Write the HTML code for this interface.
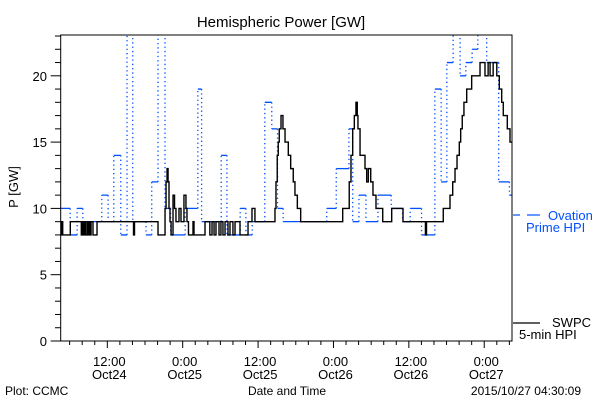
<!DOCTYPE html>
<html><head><meta charset="utf-8">
<style>
html,body{margin:0;padding:0;background:#fff;}
svg{display:block;font-family:"Liberation Sans",sans-serif;}
</style></head>
<body>
<svg id="chart" width="600" height="400" viewBox="0 0 600 400" xmlns="http://www.w3.org/2000/svg">
<rect width="600" height="400" fill="#fff"/>
<defs><clipPath id="plotclip"><rect x="60.7" y="35" width="451.3" height="306.5"/></clipPath></defs>
<text x="281" y="27" font-size="15" text-anchor="middle" fill="#000">Hemispheric Power [GW]</text>
<text x="0" y="0" font-size="13" text-anchor="middle" transform="translate(18,187) rotate(-90)" fill="#000">P [GW]</text>
<text x="287" y="395" font-size="12" text-anchor="middle" fill="#000">Date and Time</text>
<text x="5" y="395" font-size="12" fill="#000">Plot: CCMC</text>
<text x="581" y="395" font-size="12" text-anchor="end" fill="#000">2015/10/27 04:30:09</text>
<g id="yaxis"></g>
<g id="xaxis"></g>
<g clip-path="url(#plotclip)">
<g id="ovation"></g>
<path id="swpc" fill="none" stroke="#000" stroke-width="1.4"/>
</g>
<rect x="60.7" y="35" width="451.3" height="306" fill="none" stroke="#000" stroke-width="1"/>
<g>
<line x1="513" y1="215" x2="520" y2="215" stroke="#0050ff" stroke-width="1.2"/>
<line x1="527" y1="215" x2="540" y2="215" stroke="#0050ff" stroke-width="1.2"/>
<text x="548" y="220" font-size="13" fill="#0050ff">Ovation</text>
<text x="526" y="232" font-size="13" fill="#0050ff">Prime HPI</text>
</g>
<g>
<line x1="513" y1="323" x2="540" y2="323" stroke="#000" stroke-width="1.2"/>
<text x="552" y="327" font-size="13" fill="#000">SWPC</text>
<text x="519" y="339" font-size="13" fill="#000">5-min HPI</text>
</g>
</svg>
<script>
// time in hours since Oct24 00:00
const tMin = 4.58, tMax = 76.42;
const yTicks = [0, 5, 10, 15, 20];
const xTickHours = [12, 24, 36, 48, 60, 72];
const xTickTimes = ["12:00", "0:00", "12:00", "0:00", "12:00", "0:00"];
const xTickDates = ["Oct24", "Oct25", "Oct25", "Oct26", "Oct26", "Oct27"];
const ovTimes = [4.58,6.09,7.2,8.1,11.12,12.13,13.03,14.14,15.14,16.05,18.16,19.07,20.07,21.18,22.08,24.4,26.41,27.01,30.13,31.04,33.15,34.06,35.06,37.07,38.18,39.09,39.99,46.93,48.44,50.46,51.06,52.06,53.17,55.08,57.19,59.0,60.21,62.02,64.14,65.14,66.05,67.05,68.16,69.07,70.07,70.98,72.39,74.3,76.01];
const ovValues = [10,8,10,9,11,9,14,8,23.5,9,8,12,23.5,10,8,10,19,9,14,8,10,8,9,18,16,10,9,10,13,16,9,11,9,11,10,9,10,8,19,12,21,23.5,20,21,22,23.5,21,12,11];
const swTimes = [4.58,4.7,4.8,4.9,6.11,7.86,8.05,8.21,8.37,8.52,8.77,8.93,9.09,9.25,9.41,9.72,10.36,16.17,16.33,20.07,21.19,21.35,21.51,21.67,21.82,21.98,22.15,22.46,22.7,22.93,23.41,23.73,24.2,24.52,24.68,24.92,25.64,25.8,27.55,28.32,28.67,28.99,29.3,29.78,30.09,30.41,30.74,31.21,31.53,32.0,32.33,33.12,34.4,35.03,35.5,38.69,38.85,39.05,39.21,39.37,39.65,39.96,40.29,40.81,41.19,41.6,41.87,42.25,42.78,49.47,50.51,50.79,51.06,51.32,51.58,51.79,51.9,52.23,53.02,53.29,53.55,53.93,54.29,54.77,55.84,57.27,59.07,62.64,62.81,65.48,66.55,66.98,67.35,67.67,68.03,68.25,68.5,68.77,69.21,70.0,71.33,72.12,72.62,72.93,73.42,74.0,74.4,74.78,75.03,75.67,76.1];
const swValues = [9,8,9,8,9,8,9,8,9,8,9,8,9,8,9,8,9,8,9,8,10,12,13,12,10,9,8,11,10,9,10,9,11,10,9,8,9,8,9,8,9,8,9,8,9,8,9,8,9,8,9,8,9,10,9,10,12,14,15,16,17,16,15,14,13,12,11,10,9,10,12,14,16,17,18,17,16,14,13,12,13,12,11,10,9,10,9,8,9,10,11,12,13,14,15,16,17,18,19,20,21,20,21,20,21,20,19,18,17,16,15];

const X0 = 60.7, X1 = 512, Y0 = 341, pxPerUnit = 13.26;
const xs = t => X0 + (t - tMin) * (X1 - X0) / (tMax - tMin);
const ys = v => Y0 - v * pxPerUnit;
const NS = "http://www.w3.org/2000/svg";
function mk(tag, attrs, parent) {
  const e = document.createElementNS(NS, tag);
  for (const k in attrs) e.setAttribute(k, attrs[k]);
  parent.appendChild(e);
  return e;
}
// y axis
const ya = document.getElementById("yaxis");
for (let v = 0; v <= 23; v++) {
  const major = v % 5 === 0;
  const tk = mk("line", {x1: major ? 50.7 : 55, x2: X0, y1: ys(v), y2: ys(v), stroke: "#000", "stroke-width": 1}, ya);
  
  
}
yTicks.forEach(v => {
  const t = mk("text", {x: 47, y: ys(v) + 5, "font-size": 13, "text-anchor": "end", fill: "#000"}, ya);
  
  
  t.textContent = v;
});
// x axis
const xa = document.getElementById("xaxis");
for (let t = 6; t <= tMax; t += 2) {
  const major = t % 12 === 0;
  const tk = mk("line", {x1: xs(t), x2: xs(t), y1: Y0, y2: major ? 348 : 345, stroke: "#000", "stroke-width": 1}, xa);
  
  
}
xTickHours.forEach((t, i) => {
  const a = mk("text", {x: xs(t) + 2, y: 366, "font-size": 13, "text-anchor": "middle", fill: "#000"}, xa);
  
  
  a.textContent = xTickTimes[i];
  const b = mk("text", {x: xs(t) + 2, y: 379, "font-size": 13, "text-anchor": "middle", fill: "#000"}, xa);
  
  
  b.textContent = xTickDates[i];
});
// ovation: solid horizontals, dotted verticals
const og = document.getElementById("ovation");
ovTimes.forEach((t, i) => {
  const tEnd = i + 1 < ovTimes.length ? ovTimes[i + 1] : tMax;
  const h = mk("line", {x1: xs(t), x2: xs(tEnd), y1: ys(ovValues[i]), y2: ys(ovValues[i]), stroke: "#0050ff", "stroke-width": 1.3}, og);
  
  
  if (i + 1 < ovTimes.length) {
    const v = mk("line", {x1: xs(tEnd), x2: xs(tEnd), y1: ys(ovValues[i]), y2: ys(ovValues[i + 1]), stroke: "#0050ff", "stroke-width": 1.3, "stroke-dasharray": "1.3,3"}, og);
    
    
  }
});
// swpc step line
let d = "";
swTimes.forEach((t, i) => {
  const tEnd = i + 1 < swTimes.length ? swTimes[i + 1] : tMax;
  d += (i === 0 ? "M" : "L") + xs(t).toFixed(2) + "," + ys(swValues[i]).toFixed(2) + " L" + xs(tEnd).toFixed(2) + "," + ys(swValues[i]).toFixed(2) + " ";
});
document.getElementById("swpc").setAttribute("d", d);
</script>
</body></html>
